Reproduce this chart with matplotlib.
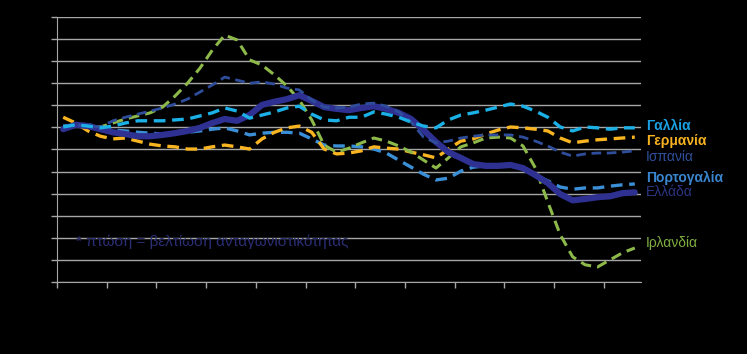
import numpy as np
import matplotlib
matplotlib.use("Agg")
import matplotlib.pyplot as plt

plt.rcParams['font.family'] = ['Liberation Sans', 'DejaVu Sans']

# 47 quarterly points, index scale
quarters = np.arange(47)

france = [100.1, 100.6, 100.3, 99.9, 100.3, 101.0, 101.5, 101.5, 101.5, 101.7,
          101.9, 102.6, 103.3, 104.4, 103.7, 102.1, 102.8, 103.5, 104.4, 104.8,
          103.0, 101.7, 101.5, 102.3, 102.3, 103.5, 103.0, 102.3, 101.2, 100.3,
          99.9, 101.7, 102.8, 103.3, 103.9, 104.6, 105.3, 104.8, 103.7, 102.3,
          100.1, 99.2, 100.1, 99.9, 99.6, 99.9, 99.9]
germany = [102.3, 101.0, 99.2, 98.0, 97.4, 97.6, 96.9, 96.2, 95.8, 95.6,
           95.1, 95.1, 95.6, 96.0, 95.6, 95.1, 97.4, 98.9, 99.9, 100.3,
           98.9, 95.1, 94.0, 94.2, 94.7, 95.6, 95.3, 95.1, 94.4, 93.8,
           93.1, 95.1, 96.9, 97.4, 98.5, 99.4, 100.1, 99.9, 99.6, 99.2,
           97.6, 96.5, 96.9, 97.2, 97.4, 97.6, 97.8]
spain = [100.1, 100.6, 100.3, 100.1, 101.5, 102.3, 103.0, 103.7, 104.4, 105.3,
         106.4, 108.0, 109.6, 111.4, 110.7, 110.0, 110.3, 109.8, 108.9, 108.5,
         106.2, 104.6, 104.4, 104.6, 105.3, 105.5, 104.8, 103.5, 101.2, 97.8,
         96.5, 96.9, 97.6, 98.0, 98.3, 98.3, 98.3, 97.8, 96.9, 95.8,
         94.4, 93.5, 94.0, 94.2, 94.2, 94.4, 94.7]
portugal = [100.3, 100.6, 100.6, 100.1, 99.4, 99.2, 98.9, 98.7, 98.5, 98.7,
            98.9, 99.2, 99.6, 99.9, 99.2, 98.3, 98.7, 98.9, 98.9, 98.7,
            97.4, 96.0, 95.8, 95.8, 95.6, 95.1, 94.2, 92.6, 91.0, 89.4,
            88.1, 88.5, 90.1, 91.0, 91.3, 91.5, 91.5, 90.4, 89.2, 87.9,
            86.5, 86.0, 86.3, 86.3, 86.7, 87.0, 87.2]
greece = [99.6, 100.6, 100.3, 99.6, 98.9, 98.5, 98.0, 98.0, 98.3, 98.7,
          99.2, 99.9, 101.0, 101.9, 101.5, 102.8, 105.1, 105.8, 106.4, 107.3,
          106.0, 104.6, 104.2, 103.9, 104.4, 104.8, 104.2, 103.3, 101.9, 99.4,
          96.7, 94.4, 93.1, 91.7, 91.3, 91.3, 91.5, 90.8, 89.2, 87.4,
          84.9, 83.5, 83.8, 84.2, 84.4, 85.1, 85.3]
ireland = [100.1, 100.6, 100.3, 100.1, 101.0, 101.9, 102.6, 103.3, 104.6, 107.1,
           110.0, 113.4, 117.5, 120.9, 119.8, 115.3, 114.1, 111.9, 109.4, 106.2,
           101.7, 96.0, 94.4, 95.3, 96.5, 97.6, 96.9, 95.8, 94.4, 92.6,
           90.8, 93.1, 95.6, 96.5, 97.6, 97.8, 97.6, 95.8, 90.8, 83.1,
           75.7, 70.7, 68.9, 68.4, 70.0, 71.6, 72.7]

names = ["Γαλλία", "Γερμανία", "Ισπανία", "Πορτογαλία", "Ελλάδα", "Ιρλανδία"]
label_y = [100.3, 96.9, 93.3, 88.5, 85.4, 73.8]
note = "* πτώση = βελτίωση ανταγωνιστικότητας"

fig = plt.figure(figsize=(7.47, 3.54), dpi=100, facecolor="black")
ax = fig.add_axes([0.0763, 0.2034, 0.7818, 0.7486], facecolor="black")

ax.plot(quarters, portugal, color="#3A8FD6", lw=2.4, dashes=(3.5, 2))
ax.plot(quarters, germany, color="#F9B521", lw=2.4, dashes=(3.5, 2))
ax.plot(quarters, ireland, color="#8DB94A", lw=2.2, dashes=(3.5, 2))
ax.plot(quarters, greece, color="#2E3192", lw=4.5, solid_capstyle="round")
ax.plot(quarters, spain, color="#2E4D9B", lw=2.0, dashes=(3.5, 2))
ax.plot(quarters, france, color="#1BB1E7", lw=2.4, dashes=(3.5, 2))

ax.set_xlim(-0.5, 46.5)
ax.set_ylim(65, 125)
ax.set_yticks(np.arange(65, 126, 5))
ax.set_xticks(np.arange(-0.5, 46, 4))
ax.set_xticklabels([])
ax.set_yticklabels([])
ax.grid(axis="y", color="#A6A6A6", lw=1)
ax.set_axisbelow(True)
ax.tick_params(colors="#A6A6A6", length=4, width=1)
for s in ["top", "right"]:
    ax.spines[s].set_visible(False)
ax.spines["left"].set_color("#A6A6A6")
ax.spines["bottom"].set_color("#A6A6A6")

label_colors = ["#1BA1E2", "#F6B221", "#2F4F9A", "#3A85CF", "#2B3583", "#7FAF41"]
weights = ["bold", "bold", "normal", "bold", "normal", "normal"]
for n, yv, c, w in zip(names, label_y, label_colors, weights):
    ax.text(46.9, yv, n, color=c, fontsize=10, fontweight=w, va="center",
            ha="left", clip_on=False)

ax.text(1.0, 74.0, note, color="#2B2E74", fontsize=11, va="center", ha="left")

fig.savefig("out.png", dpi=100, facecolor="black")
